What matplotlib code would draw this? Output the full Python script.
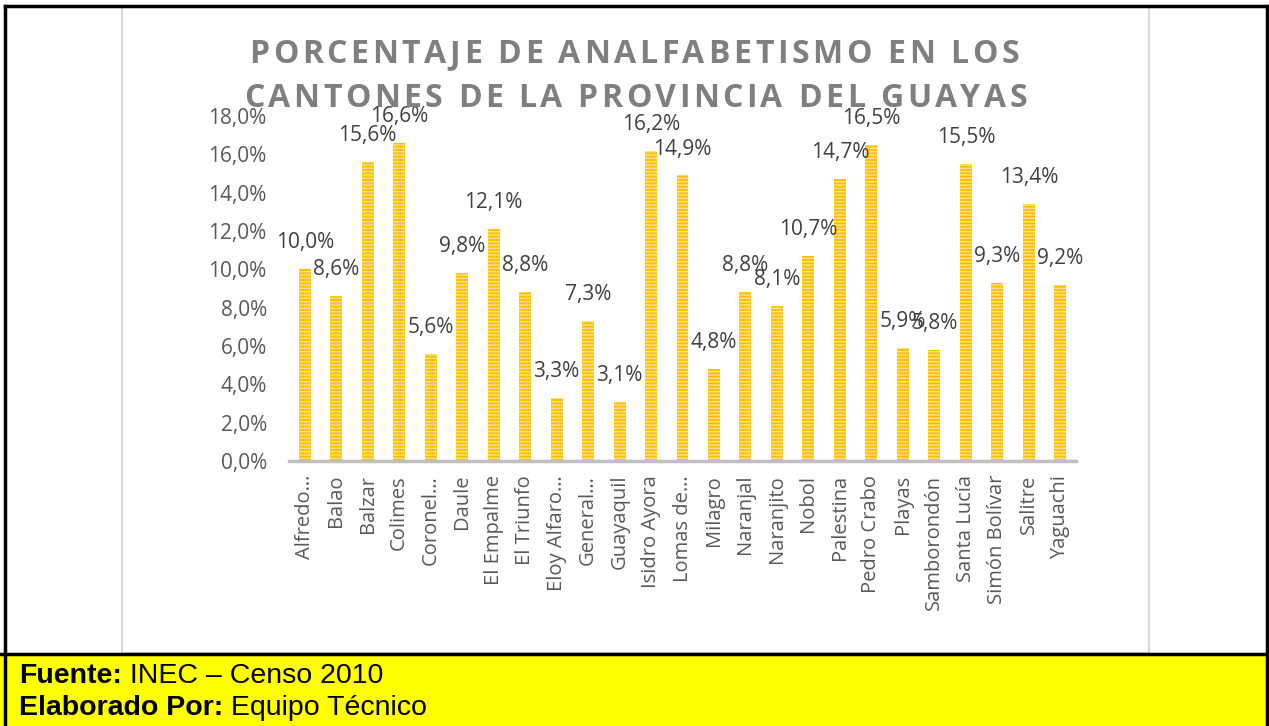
import matplotlib
matplotlib.use('Agg')
import matplotlib.pyplot as plt
from matplotlib.patches import Rectangle
from matplotlib.lines import Line2D
from matplotlib.font_manager import FontProperties
import numpy as np

# ---------------- data ----------------
cantones = ["Alfredo…", "Balao", "Balzar", "Colimes", "Coronel…", "Daule",
            "El Empalme", "El Triunfo", "Eloy Alfaro…", "General…", "Guayaquil",
            "Isidro Ayora", "Lomas de…", "Milagro", "Naranjal", "Naranjito",
            "Nobol", "Palestina", "Pedro Crabo", "Playas", "Samborondón",
            "Santa Lucía", "Simón Bolívar", "Salitre", "Yaguachi"]
valores = [10.0, 8.6, 15.6, 16.6, 5.6, 9.8, 12.1, 8.8, 3.3, 7.3, 3.1,
           16.2, 14.9, 4.8, 8.8, 8.1, 10.7, 14.7, 16.5, 5.9, 5.8, 15.5,
           9.3, 13.4, 9.2]
yticks = [0, 2, 4, 6, 8, 10, 12, 14, 16, 18]
ytick_labels = ["0,0%", "2,0%", "4,0%", "6,0%", "8,0%", "10,0%", "12,0%",
                "14,0%", "16,0%", "18,0%"]
titulo = ["PORCENTAJE DE ANALFABETISMO EN LOS",
          "CANTONES DE LA PROVINCIA DEL GUAYAS"]
fuente_bold = "Fuente:"
fuente_txt = " INEC – Censo 2010"
elab_bold = "Elaborado Por:"
elab_txt = " Equipo Técnico"

def fmt(v):
    return f"{v:.1f}%".replace('.', ',')

# ---------------- figure ----------------
W, H = 1269, 726
plt.rcParams['hatch.linewidth'] = 1.0
fig = plt.figure(figsize=(W / 100, H / 100), dpi=100)
fig.patch.set_facecolor('white')

def fx(x):
    return x / W

def fy(y):
    return 1 - y / H

# yellow footer band
fig.add_artist(Rectangle((0, 0), 1, fy(654), fc='#FFFF00', ec='none',
                         transform=fig.transFigure, zorder=0))
# chart area light border
fig.add_artist(Rectangle((fx(122), fy(653)), fx(1149) - fx(122), fy(7) - fy(653),
                         fill=False, ec='#D9D9D9', lw=1.5,
                         transform=fig.transFigure, zorder=1))
# black lines
fig.add_artist(Line2D([0, 1], [fy(654), fy(654)], color='black', lw=2.5,
                      transform=fig.transFigure))
fig.add_artist(Line2D([fx(5), fx(1267)], [fy(6), fy(6)], color='black', lw=2.5,
                      transform=fig.transFigure))
fig.add_artist(Line2D([fx(5), fx(5)], [0, fy(6)], color='black', lw=2.5,
                      transform=fig.transFigure))
fig.add_artist(Line2D([fx(1267), fx(1267)], [0, fy(6)], color='black', lw=2.5,
                      transform=fig.transFigure))

# ---------------- axes ----------------
ax = fig.add_axes([fx(289), fy(461), (1076 - 289) / W, (461 - 116) / H])
ax.set_facecolor('none')
x = np.arange(len(cantones))
ax.bar(x, valores, width=0.38, color='#FFC000', edgecolor='#FFE38C',
       hatch='-----', linewidth=0, zorder=2)
ax.set_xlim(-0.5, len(cantones) - 0.5)
ax.set_ylim(0, 18)
ax.set_yticks(yticks)
ax.set_yticklabels(ytick_labels, fontfamily='Open Sans', fontsize=15,
                   color='#595959')
ax.set_xticks(x)
ax.set_xticklabels(cantones, rotation=90, fontfamily='Open Sans', fontsize=14.5,
                   color='#595959', ha='center', va='top')
ax.tick_params(axis='y', length=0, pad=16)
ax.tick_params(axis='x', length=0, pad=10)
for s in ['left', 'right', 'top']:
    ax.spines[s].set_visible(False)
ax.spines['bottom'].set_color('#BFBFBF')
ax.spines['bottom'].set_linewidth(2.5)

for xi, v in zip(x, valores):
    ax.annotate(fmt(v), (xi, v), xytext=(0, 19), textcoords='offset points',
                ha='center', va='center', fontfamily='Open Sans', fontsize=15,
                color='#404040', zorder=3)

# ---------------- letter-spaced title ----------------
fig.canvas.draw()
renderer = fig.canvas.get_renderer()
fp_title = FontProperties(family='Open Sans', weight='bold', size=23)

def width(s, fp):
    return renderer.get_text_width_height_descent(s, fp, ismath=False)[0]

def spaced_line(text, x_left, x_right, baseline):
    bar_w = width('|', fp_title)
    adv = [width(ch + '|', fp_title) - bar_w for ch in text]
    target = x_right - x_left
    sp = (target - sum(adv)) / (len(text) - 1)
    xpos = x_left
    for ch, a in zip(text, adv):
        if ch != ' ':
            fig.text(fx(xpos), fy(baseline), ch, fontproperties=fp_title,
                     color='#7F7F7F', ha='left', va='baseline', zorder=4)
        xpos += a + sp

spaced_line(titulo[0], 249, 1019, 63)
spaced_line(titulo[1], 244, 1027, 107)

# ---------------- footer text ----------------
fp_b = FontProperties(family='Liberation Sans', weight='bold', size=20.5)
fp_r = FontProperties(family='Liberation Sans', size=20.5)
for yy, b, r in [(683, fuente_bold, fuente_txt), (715, elab_bold, elab_txt)]:
    fig.text(fx(19), fy(yy), b, fontproperties=fp_b, color='black',
             ha='left', va='baseline')
    wb = width(b + '|', fp_b) - width('|', fp_b)
    fig.text(fx(19 + wb), fy(yy), r, fontproperties=fp_r, color='black',
             ha='left', va='baseline')

fig.savefig('out.png', dpi=100)
